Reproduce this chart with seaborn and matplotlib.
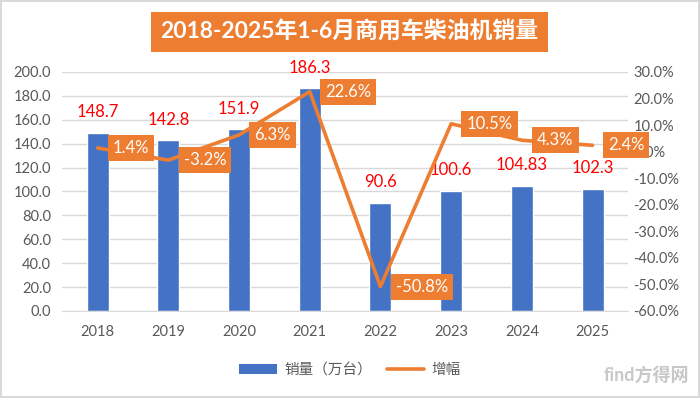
import numpy as np
import pandas as pd
import matplotlib
matplotlib.use("Agg")
import matplotlib.pyplot as plt
import seaborn as sns
from matplotlib.patches import Patch
from matplotlib.lines import Line2D

# data
years = ['2018', '2019', '2020', '2021', '2022', '2023', '2024', '2025']
sales = [148.7, 142.8, 151.9, 186.3, 90.6, 100.6, 104.83, 102.3]
sales_labels = ['148.7', '142.8', '151.9', '186.3', '90.6', '100.6', '104.83', '102.3']
growth = [1.4, -3.2, 6.3, 22.6, -50.8, 10.5, 4.3, 2.4]
growth_labels = ['1.4%', '-3.2%', '6.3%', '22.6%', '-50.8%', '10.5%', '4.3%', '2.4%']

BLUE = '#4472C4'
ORANGE = '#ED7D31'
GREY = '#595959'
GRID = '#D9D9D9'

sns.set_style('white')
plt.rcParams['font.family'] = ['Lato', 'Noto Sans CJK SC', 'DejaVu Sans']

df = pd.DataFrame({'year': years, 'sales': sales, 'growth': growth})

fig = plt.figure(figsize=(7, 3.98), dpi=100)
fig.patch.set_edgecolor(GRID)
fig.patch.set_linewidth(1.5)
ax = fig.add_axes([0.089, 0.2186, 0.808, 0.6005])

sns.barplot(data=df, x='year', y='sales', color=BLUE, width=0.31,
            saturation=1, ax=ax, zorder=2)
ax.set_ylim(0, 200)
ax.set_xlim(-0.5, 7.5)
ax.set_yticks(np.arange(0, 201, 20))
ax.set_yticklabels([f'{v:.1f}' for v in np.arange(0, 201, 20)])
ax.yaxis.grid(True, color=GRID, linewidth=1)
ax.set_axisbelow(True)
ax.set_xlabel('')
ax.set_ylabel('')
for s in ['top', 'right', 'left']:
    ax.spines[s].set_visible(False)
ax.spines['bottom'].set_color(GRID)
ax.tick_params(axis='both', length=0, colors=GREY, labelsize=10.5)
ax.tick_params(axis='x', pad=10)
ax.tick_params(axis='y', pad=8)

for i, (v, lab) in enumerate(zip(sales, sales_labels)):
    ax.annotate(lab, (i, v), xytext=(0, 15), textcoords='offset points',
                ha='center', va='center', color='#FF0000', fontsize=12)

ax2 = ax.twinx()
sns.lineplot(x=np.arange(len(years)), y=growth, color=ORANGE, linewidth=2.6,
             ax=ax2, zorder=3)
ax2.set_ylim(-60, 30)
ax2.set_yticks(np.arange(-60, 31, 10))
ax2.set_yticklabels([f'{v:.1f}%' for v in np.arange(-60, 31, 10)])
ax2.tick_params(axis='y', length=0, colors=GREY, labelsize=10.5, pad=4)
ax2.set_ylabel('')
for s in ['top', 'right', 'left', 'bottom']:
    ax2.spines[s].set_visible(False)

for i, (v, lab) in enumerate(zip(growth, growth_labels)):
    ax2.annotate(lab, (i, v), xytext=(11, 0), textcoords='offset points',
                 ha='left', va='center', color='white', fontsize=12,
                 annotation_clip=False, zorder=5,
                 bbox=dict(boxstyle='square,pad=0.3', fc=ORANGE, ec='none'))

# title in orange box
fig.text(0.499, 0.92, '2018-2025年1-6月商用车柴油机销量', ha='center', va='center',
         color='white', fontsize=16.5, fontweight='bold',
         bbox=dict(boxstyle='square,pad=0.4', fc=ORANGE, ec='none'))

handles = [Patch(facecolor=BLUE, edgecolor='none'),
           Line2D([0], [0], color=ORANGE, linewidth=2.6)]
fig.legend(handles, ['销量（万台）', '增幅'], loc='center', bbox_to_anchor=(0.5, 0.07),
           ncol=2, frameon=False, fontsize=10.5, labelcolor=GREY,
           handlelength=2.6, handletextpad=0.5, columnspacing=1.0)

fig.text(0.985, 0.035, 'find方得网', ha='right', va='bottom', color='#C8C8C8',
         fontsize=13, fontweight='bold')

fig.savefig('out.png', dpi=100)
